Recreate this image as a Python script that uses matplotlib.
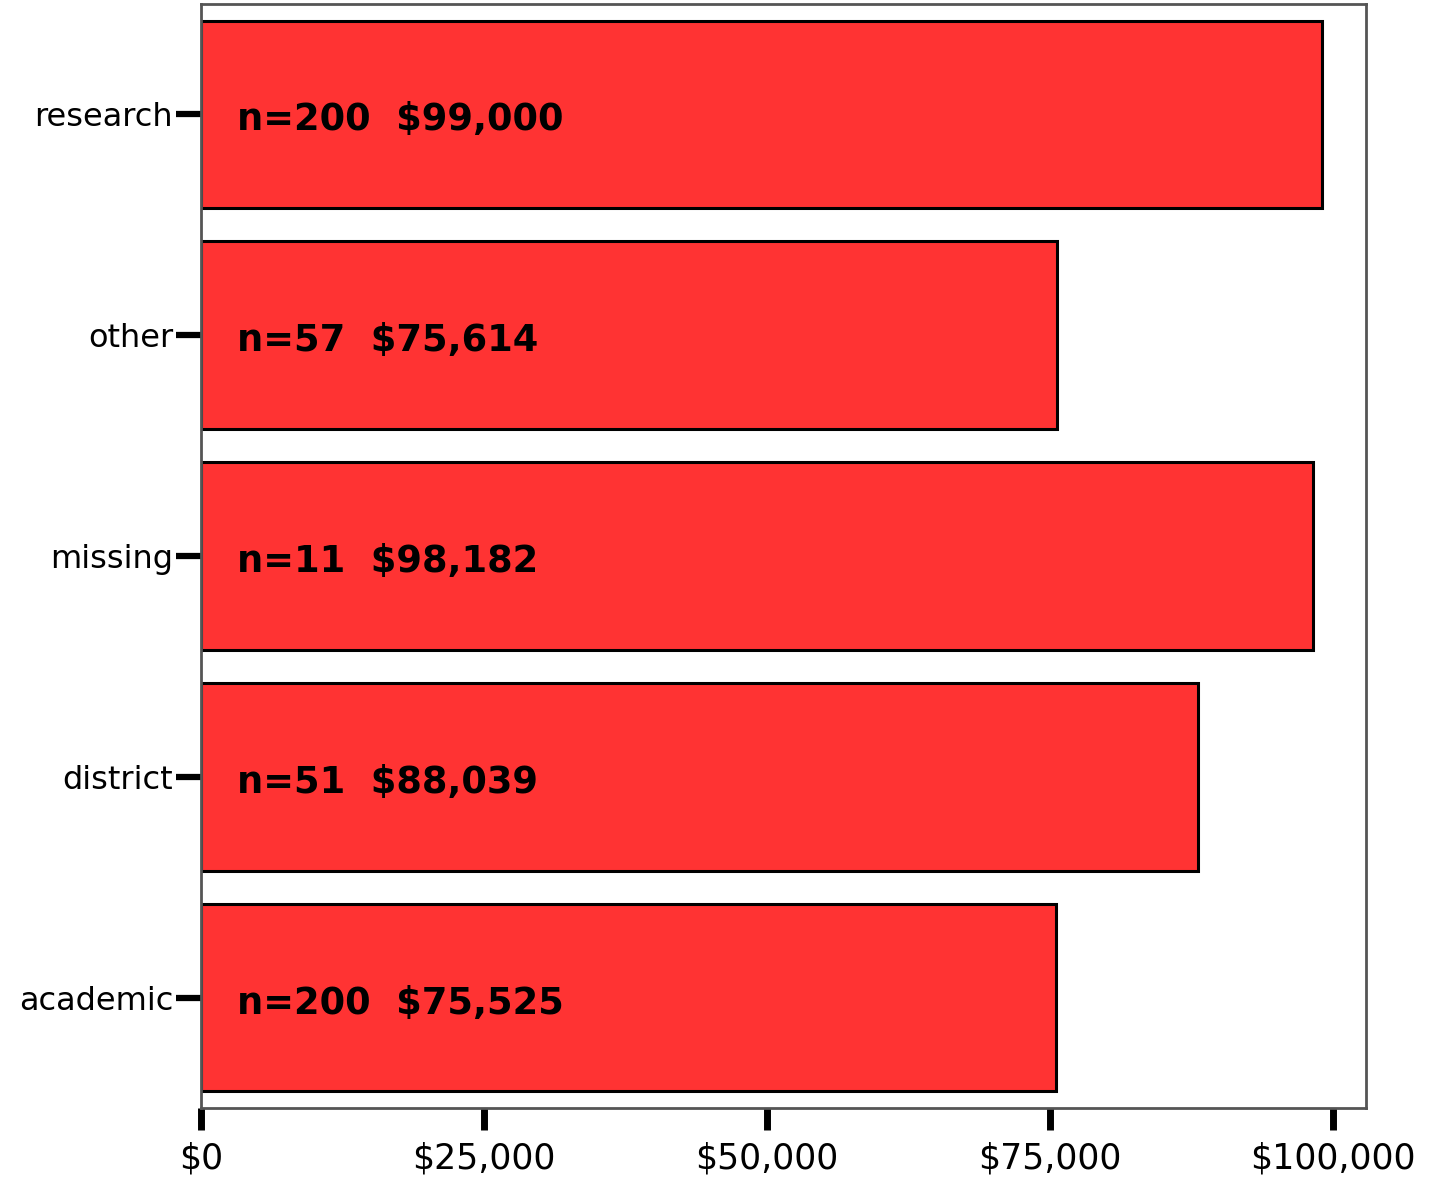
import numpy as np
import matplotlib.pyplot as plt
from matplotlib.ticker import FuncFormatter

plt.rcParams['font.family'] = ['DejaVu Sans']

# mean salary by position type, top to bottom
categories = ['research', 'other', 'missing', 'district', 'academic']
counts = [200, 57, 11, 51, 200]
salaries = [99000, 75614, 98182, 88039, 75525]
xticks = [0, 25000, 50000, 75000, 100000]

fig = plt.figure(figsize=(14.29, 11.77), dpi=100)
ax = fig.add_axes([201/1429, 1 - 1108/1177, (1366-201)/1429, (1108-4)/1177])

ypos = np.arange(len(categories))
ax.barh(ypos, salaries, height=0.85, color='#ff3333', edgecolor='black', linewidth=2.2)

# n and mean inside each bar
for y, n, s in zip(ypos, counts, salaries):
    ax.annotate('n=%d  $%s' % (n, format(s, ',')), xy=(0, y), xytext=(26, -4),
                textcoords='offset points', ha='left', va='center',
                fontsize=26.5, fontweight='bold', color='black')

ax.set_xlim(0, 102900)
ax.set_ylim(4.5, -0.5)
ax.set_yticks(ypos)
ax.set_yticklabels(categories, fontsize=23, va='top')
ax.set_xticks(xticks)
ax.xaxis.set_major_formatter(FuncFormatter(lambda v, p: '$' + format(int(v), ',')))
ax.tick_params(axis='x', direction='out', length=16, width=5, color='black',
               labelsize=25, pad=8)
ax.tick_params(axis='y', direction='out', length=18, width=4.5, color='black', pad=2)
# nudge category labels so they sit on the tick line
for lbl in ax.get_yticklabels():
    lbl.set_verticalalignment('center_baseline')

for sp in ax.spines.values():
    sp.set_color('#555555')
    sp.set_linewidth(2)

fig.savefig('out.png', dpi=100)
